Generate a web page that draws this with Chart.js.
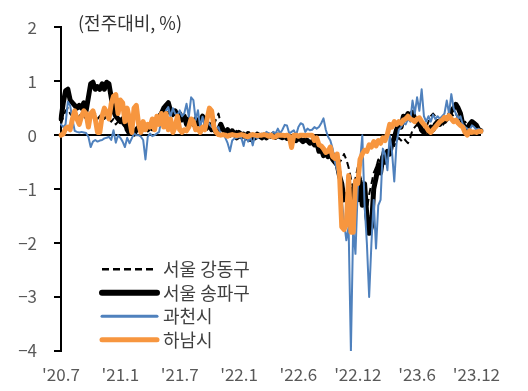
<!DOCTYPE html>
<html><head><meta charset="utf-8">
<script src="https://cdn.jsdelivr.net/npm/chart.js@4"></script>
<style>html,body{margin:0;padding:0;background:#fff}#wrap{position:relative;width:528px;height:391px}</style>
</head><body><div id="wrap"><canvas id="c" width="528" height="391"></canvas></div>
<script>
const tickLabels = ["'20.7","'21.1","'21.7","'22.1","'22.6","'22.12","'23.6","'23.12"];
const weeksPerTick = 26;
const seriesNames = ['서울 강동구','서울 송파구','과천시','하남시'];
const unitNote = '(전주대비, %)';

const gangdong = [
0.2,0.35,0.45,0.5,0.4,0.35,0.3,0.3,0.35,0.4,
0.35,0.3,0.38,0.4,0.35,0.4,0.3,0.35,0.4,0.3,
0.35,0.3,0.25,0.3,0.2,0.25,0.3,0.2,0.15,0.2,
0.1,0.12,0.08,0.1,0.15,0.12,0.1,0.15,0.12,0.2,
0.18,0.25,0.3,0.28,0.35,0.4,0.45,0.4,0.45,0.35,
0.4,0.3,0.35,0.25,0.3,0.25,0.2,0.25,0.3,0.2,
0.25,0.2,0.15,0.2,0.1,0.15,0.12,0.2,0.3,0.4,
0.2,0.15,0.08,0.1,0.05,0.1,0.05,0.08,-0.05,0.05,
0,-0.08,-0.03,-0.1,-0.05,0,-0.05,0,-0.03,0.02,
-0.02,0,0.03,-0.02,0,-0.03,0,-0.05,-0.02,-0.05,
-0.04,-0.06,-0.05,-0.08,-0.06,-0.1,-0.08,-0.12,-0.1,-0.15,
-0.12,-0.15,-0.2,-0.18,-0.25,-0.22,-0.3,-0.28,-0.35,-0.3,
-0.4,-0.45,-0.5,-0.45,-0.35,-0.45,-0.6,-0.8,-1.0,-0.8,
-0.6,-0.75,-0.9,-1.2,-1.4,-1.1,-0.9,-0.7,-0.6,-0.45,
-0.5,-0.3,-0.4,-0.25,-0.3,-0.15,-0.2,-0.1,-0.05,-0.1,
-0.05,-0.1,-0.15,-0.05,0.1,0.15,0.2,0.1,0.05,0.08,
0.15,0.25,0.35,0.4,0.35,0.3,0.2,0.15,0.25,0.3,
0.35,0.4,0.35,0.4,0.3,0.25,0.2,0.25,0.2,0.15,
0.2,0.15,0.12,0.1,0.1];

const songpa = [
0.3,0.6,0.82,0.85,0.65,0.6,0.55,0.5,0.55,0.5,
0.6,0.45,0.7,0.95,0.98,0.85,0.9,0.85,0.95,0.85,
0.98,0.95,0.7,0.45,0.35,0.3,0.25,0.3,0.25,0.1,
0.03,0.05,0.02,0.1,0.15,0.18,0.12,0.15,0.1,0.15,
0.12,0.2,0.3,0.35,0.4,0.5,0.55,0.6,0.45,0.4,
0.45,0.35,0.4,0.3,0.35,0.2,0.3,0.25,0.2,0.3,
0.2,0.28,0.35,0.3,0.15,0.2,0.1,0.12,0.05,0.1,
0.2,0.1,0.05,0.1,0,0.08,0.03,-0.05,0.05,-0.03,
0.02,-0.05,0.03,-0.08,0,-0.05,0.02,-0.02,-0.05,0,
-0.05,0,-0.02,0.02,-0.04,0,-0.03,-0.05,-0.02,-0.06,
-0.03,-0.08,-0.05,-0.1,-0.06,-0.08,-0.12,-0.08,-0.1,-0.15,
-0.12,-0.18,-0.12,-0.3,-0.25,-0.38,-0.3,-0.4,-0.3,-0.45,
-0.5,-0.55,-0.75,-0.9,-1.2,-1.1,-1.3,-1.0,-1.4,-0.9,
-1.2,-0.85,-1.3,-0.9,-1.5,-1.82,-1.7,-1.0,-0.8,-0.55,
-0.7,-0.4,-0.5,-0.3,-0.35,-0.15,-0.05,0.1,0.2,0.15,
0.35,0.3,0.4,0.35,0.42,0.3,0.25,0.2,0.1,0.05,
0.1,0.05,0.15,0.1,0.2,0.25,0.2,0.3,0.25,0.3,
0.35,0.45,0.5,0.57,0.5,0.4,0.2,0.15,0.1,0.2,
0.25,0.22,0.18,0.1,0.08];

const gwacheon = [
0.2,0.15,0.2,0.62,0.55,0.3,0.08,0.06,0.05,0.06,
0.05,0.04,-0.03,-0.22,-0.12,-0.09,-0.12,-0.1,-0.09,-0.06,
-0.05,-0.03,-0.09,0.09,-0.14,0,-0.05,-0.12,-0.22,-0.05,
-0.15,-0.06,0.03,0,0,-0.03,-0.09,-0.45,-0.03,0.03,
-0.02,0,0.03,0.06,0.3,0.22,0.45,0.52,0.34,0.5,
0.4,0.37,0.46,0.35,0.4,0.58,0.34,0.7,0.65,0.28,
0.46,0.15,0.34,0.15,0.28,0.2,0.15,0.15,0.12,0.15,
0,0.02,-0.05,-0.15,-0.3,-0.1,-0.06,-0.05,-0.03,-0.05,
-0.2,0,-0.12,-0.03,-0.19,0,-0.06,0,0.03,0,
0.06,0.03,0,0.06,0.03,0.12,0.03,0.1,0.19,0.18,
0.03,0.06,0.09,0,0.15,0.22,0.2,0.06,0.12,0.09,
0.1,0.15,0.12,0.15,0.22,0.31,0.1,-0.03,-0.1,-0.25,
-0.5,-0.65,-0.8,-1.2,-1.6,-1.95,-1.7,-4.0,-1.7,-2.2,
-1.0,-0.5,0,-1.3,-2.0,-3.0,-2.0,-1.2,-2.1,-1.3,
-1.2,-0.25,-0.35,-0.65,0,-0.3,-0.86,-0.15,0.1,0.15,
0.22,0.2,0.3,0.25,0.64,0.4,0.7,0.45,0.85,0.35,
0.25,0.35,0.25,0.38,0.3,0.35,0.3,0.35,0.4,0.64,
0.4,0.76,0.5,0.4,0.3,0.35,0.2,0.15,0.12,0.1,
0.18,0.15,0.1,0.12,0.08];

const hanam = [
0,0.02,0.12,0.15,0.1,0.3,0.45,0.3,0.2,0.35,
0.45,0.4,0.15,0.4,0.45,0.3,0.05,0.05,0.35,0.5,
0.42,0.3,0.58,0.72,0.75,0.4,0.65,0.6,0.25,0.5,
0.3,0.05,0.5,0.55,0.2,0.05,0.25,0.1,0.2,0.15,
0.3,0.1,0.35,0.2,0.4,0.15,0.4,0.1,0.3,0.05,
0.15,0.35,0.1,0.05,0.1,0.08,0.15,0.3,0.25,0.1,
0.12,0.05,0.15,0.1,0.3,0.5,0.45,0.15,0.05,0.01,
0,0.01,0,-0.02,0,0.01,0,-0.01,0,0.01,
0,-0.02,-0.03,0,0.01,0,-0.01,0,0,0.01,
0,-0.02,0,-0.04,-0.03,0,0,0,-0.01,0,
-0.02,-0.23,0,0,-0.02,0,0,-0.01,0,0,
0,-0.1,-0.05,-0.18,-0.2,-0.25,-0.32,-0.3,-0.22,-0.4,
-0.43,-0.35,-0.7,-1.7,-1.75,-1.65,-0.75,-1.8,-1.8,-0.85,
-0.9,-0.45,-0.35,-0.28,-0.3,-0.18,-0.22,-0.12,-0.2,-0.1,
-0.15,-0.05,-0.1,0.02,0.2,0.15,0.25,0.2,0.25,0.22,
0.28,0.3,0.35,0.3,0.28,0.25,0.3,0.32,0.25,0.2,
0.15,0.08,0.05,0.1,0.15,0.2,0.25,0.28,0.33,0.3,
0.36,0.3,0.25,0.28,0.22,0.18,0.15,0.05,0,0.08,
0.05,0.06,0.05,0.07,0.07];

const categories = gangdong.map((_, i) => i % weeksPerTick === 0 ? (tickLabels[i / weeksPerTick] || '') : '');

const FONT = "'Noto Sans CJK KR', 'Noto Sans', sans-serif";
const AXIS_TEXT = '#595959';

const overlay = {
  id: 'overlay',
  afterDatasetsDraw(chart) {
    const ctx = chart.ctx, a = chart.chartArea;
    ctx.save();
    ctx.font = '18px ' + FONT;
    ctx.fillStyle = '#333333';
    ctx.textBaseline = 'middle';
    ctx.textAlign = 'left';
    ctx.fillText(unitNote, 78, 23);
    const sampleW = [2.5, 6, 3, 5];
    chart.data.datasets.forEach((ds, k) => {
      const y = a.top + 242 + k * 23.5;
      const x0 = a.left + 41, x1 = a.left + 96;
      ctx.beginPath();
      ctx.strokeStyle = ds.borderColor;
      ctx.lineWidth = sampleW[k];
      ctx.setLineDash(ds.borderDash || []);
      ctx.lineCap = ds.borderDash ? 'butt' : 'round';
      ctx.moveTo(x0, y); ctx.lineTo(x1, y);
      ctx.stroke();
      ctx.setLineDash([]);
      ctx.fillStyle = '#404040';
      ctx.fillText(ds.label, x1 + 6, y);
    });
    ctx.restore();
  }
};

const common = { pointRadius: 0, tension: 0, fill: false, borderJoinStyle: 'round', borderCapStyle: 'round' };

new Chart(document.getElementById('c'), {
  type: 'line',
  data: {
    labels: categories,
    datasets: [
      { ...common, label: seriesNames[0], data: gangdong, borderColor: '#000000', borderWidth: 2, borderDash: [7, 4], borderCapStyle: 'butt', order: 4 },
      { ...common, label: seriesNames[1], data: songpa, borderColor: '#000000', borderWidth: 5, order: 3 },
      { ...common, label: seriesNames[2], data: gwacheon, borderColor: '#4f81bd', borderWidth: 2, order: 2 },
      { ...common, label: seriesNames[3], data: hanam, borderColor: '#f7963f', borderWidth: 5, order: 1 }
    ]
  },
  options: {
    responsive: false,
    devicePixelRatio: 1,
    animation: false,
    layout: { padding: { top: 27, right: 47, left: 0, bottom: 0 } },
    plugins: { legend: { display: false }, tooltip: { enabled: false } },
    scales: {
      x: {
        type: 'category',
        grid: { display: false, drawTicks: false },
        border: { display: false },
        ticks: { autoSkip: false, maxRotation: 0, minRotation: 0, padding: 13, color: AXIS_TEXT, font: { size: 17, family: FONT } },
        afterFit(s) { s.height = 40; }
      },
      y: {
        min: -4, max: 2,
        ticks: { stepSize: 1, padding: 17, color: AXIS_TEXT, font: { size: 17, family: FONT },
          callback: v => v < 0 ? '\u2212' + Math.abs(v) : String(v) },
        grid: {
          color: c => (c.tick && c.tick.value === 0) ? '#000000' : 'rgba(0,0,0,0)',
          tickColor: '#000000', tickLength: 7, lineWidth: 2, drawOnChartArea: true
        },
        border: { color: '#000000', width: 2 },
        afterFit(s) { s.width = 61; }
      }
    }
  },
  plugins: [overlay]
});
</script>
</body></html>
